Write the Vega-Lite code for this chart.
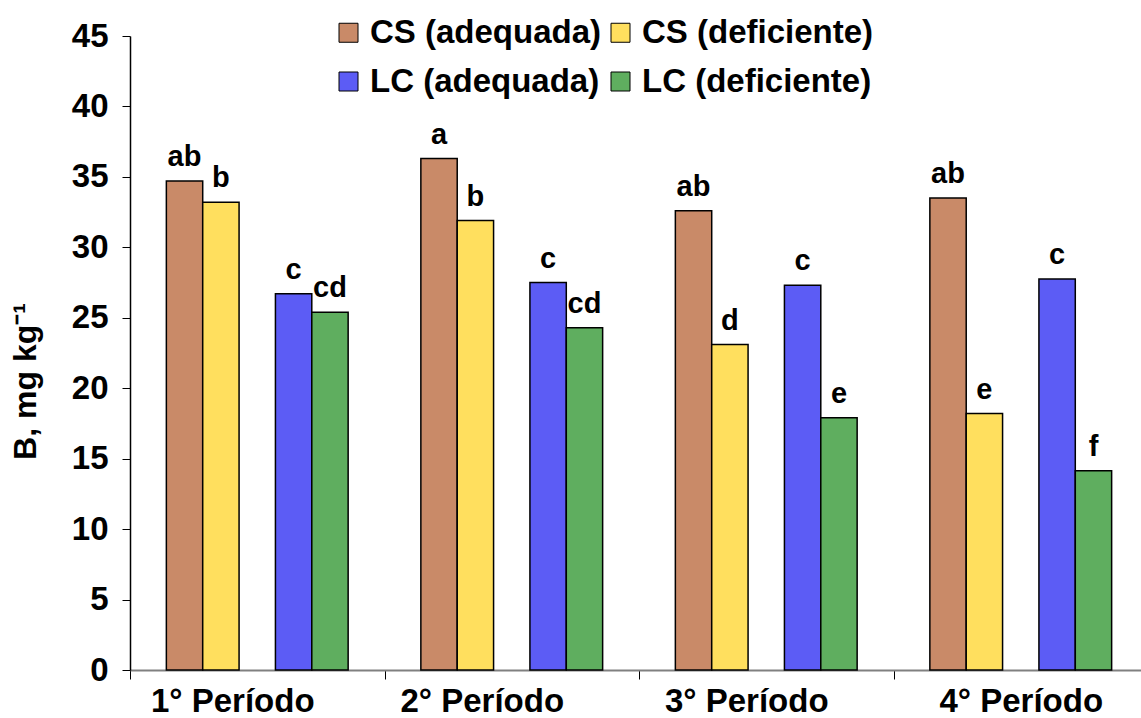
{
  "$schema": "https://vega.github.io/schema/vega-lite/v6.json",
  "autosize": "none",
  "width": 1018,
  "height": 634,
  "padding": {"left": 130, "top": 36, "right": -7, "bottom": 48},
  "background": "white",
  "config": {
    "view": {"stroke": null},
    "font": "Liberation Sans"
  },
  "data": {
    "values": [
      {"periodo": "1° Período", "tratamento": "CS (adequada)", "valor": 34.7, "letra": "ab"},
      {"periodo": "1° Período", "tratamento": "CS (deficiente)", "valor": 33.2, "letra": "b"},
      {"periodo": "1° Período", "tratamento": "LC (adequada)", "valor": 26.7, "letra": "c"},
      {"periodo": "1° Período", "tratamento": "LC (deficiente)", "valor": 25.4, "letra": "cd"},
      {"periodo": "2° Período", "tratamento": "CS (adequada)", "valor": 36.3, "letra": "a"},
      {"periodo": "2° Período", "tratamento": "CS (deficiente)", "valor": 31.9, "letra": "b"},
      {"periodo": "2° Período", "tratamento": "LC (adequada)", "valor": 27.5, "letra": "c"},
      {"periodo": "2° Período", "tratamento": "LC (deficiente)", "valor": 24.3, "letra": "cd"},
      {"periodo": "3° Período", "tratamento": "CS (adequada)", "valor": 32.6, "letra": "ab"},
      {"periodo": "3° Período", "tratamento": "CS (deficiente)", "valor": 23.1, "letra": "d"},
      {"periodo": "3° Período", "tratamento": "LC (adequada)", "valor": 27.3, "letra": "c"},
      {"periodo": "3° Período", "tratamento": "LC (deficiente)", "valor": 17.9, "letra": "e"},
      {"periodo": "4° Período", "tratamento": "CS (adequada)", "valor": 33.5, "letra": "ab"},
      {"periodo": "4° Período", "tratamento": "CS (deficiente)", "valor": 18.2, "letra": "e"},
      {"periodo": "4° Período", "tratamento": "LC (adequada)", "valor": 27.75, "letra": "c"},
      {"periodo": "4° Período", "tratamento": "LC (deficiente)", "valor": 14.15, "letra": "f"}
    ]
  },
  "encoding": {
    "x": {
      "field": "periodo",
      "type": "nominal",
      "sort": null,
      "scale": {"paddingInner": 0, "paddingOuter": 0},
      "axis": {
        "title": null,
        "labelAngle": 0,
        "labelFont": "Liberation Sans",
        "labelFontSize": 33,
        "labelFontWeight": "bold",
        "labelColor": "black",
        "labelBaseline": "alphabetic",
        "labelPadding": 32,
        "labelOffset": {"expr": "datum.value === '4° Período' ? 0 : (datum.value === '2° Período' ? -30 : (datum.value === '1° Período' ? -25 : -20))"},
        "tickBand": "extent",
        "tickSize": 9,
        "tickColor": "black",
        "tickWidth": 1,
        "domainColor": "#808080",
        "domainWidth": 2
      }
    },
    "xOffset": {
      "field": "tratamento",
      "type": "nominal",
      "scale": {
        "domain": ["CS (adequada)", "CS (deficiente)", " ", "LC (adequada)", "LC (deficiente)"],
        "paddingInner": 0,
        "paddingOuter": 1
      }
    },
    "y": {
      "field": "valor",
      "type": "quantitative",
      "scale": {"domain": [0, 45], "nice": false},
      "axis": {
        "title": "B,  mg kg⁻¹",
        "titleFont": "Liberation Sans",
        "titleFontSize": 32,
        "titleFontWeight": "bold",
        "titleColor": "black",
        "titlePadding": 29,
        "titleY": 345,
        "values": [0, 5, 10, 15, 20, 25, 30, 35, 40, 45],
        "grid": false,
        "labelFont": "Liberation Sans",
        "labelFontSize": 33,
        "labelFontWeight": "bold",
        "labelColor": "black",
        "labelPadding": 14,
        "tickSize": 8,
        "tickColor": "black",
        "domainColor": "black",
        "domainWidth": 1.5
      }
    }
  },
  "layer": [
    {
      "mark": {"type": "bar", "stroke": "black", "strokeWidth": 1.5},
      "encoding": {
        "color": {
          "field": "tratamento",
          "type": "nominal",
          "scale": {
            "domain": ["CS (adequada)", "CS (deficiente)", "LC (adequada)", "LC (deficiente)"],
            "range": ["#c98a68", "#ffdf5e", "#5c5cf5", "#5fae5f"]
          },
          "legend": {
            "title": null,
            "orient": "none",
            "legendX": 202,
            "legendY": -20,
            "columns": 2,
            "direction": "horizontal",
            "symbolType": "square",
            "symbolSize": 361,
            "symbolStrokeColor": "black",
            "symbolStrokeWidth": 1,
            "symbolOpacity": 1,
            "labelFont": "Liberation Sans",
            "labelFontSize": 33,
            "labelFontWeight": "bold",
            "labelColor": "black",
            "labelOffset": 5,
            "columnPadding": 2,
            "rowPadding": 15,
            "padding": 0,
            "labelLimit": 400
          }
        }
      }
    },
    {
      "mark": {
        "type": "text",
        "baseline": "alphabetic",
        "dy": -15,
        "font": "Liberation Sans",
        "fontSize": 29,
        "fontWeight": "bold",
        "color": "black"
      },
      "encoding": {
        "text": {"field": "letra"}
      }
    }
  ]
}
